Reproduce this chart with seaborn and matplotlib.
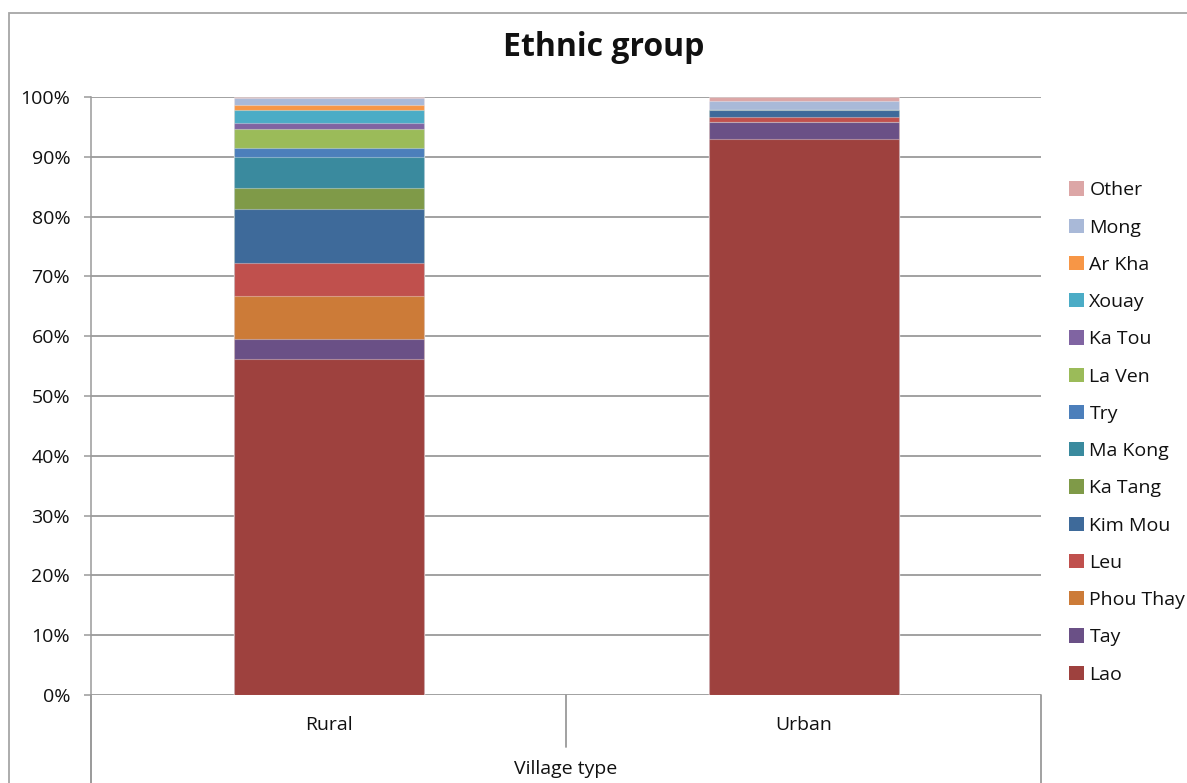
import numpy as np
import matplotlib
matplotlib.use("Agg")
import matplotlib.pyplot as plt
from matplotlib.patches import Patch, Rectangle
import seaborn as sns

# Ethnic composition (% of households) by village type
villages = ["Rural", "Urban"]
groups = ["Lao", "Tay", "Phou Thay", "Leu", "Kim Mou", "Ka Tang", "Ma Kong",
          "Try", "La Ven", "Ka Tou", "Xouay", "Ar Kha", "Mong", "Other"]
rural = [56.2, 3.3, 7.2, 5.5, 9.1, 3.4, 5.2, 1.6, 3.1, 1.1, 2.1, 0.9, 1.1, 0.2]
urban = [93.0, 2.8, 0.0, 0.8, 1.2, 0.0, 0.0, 0.0, 0.0, 0.0, 0.0, 0.0, 1.6, 0.6]
colors = ["#9E413E", "#6A5086", "#CC7B38", "#C0504D", "#3E6A9A", "#7F9A48",
          "#3A8A9E", "#4C7FBB", "#9BBB59", "#8064A2", "#4BACC6", "#F79646",
          "#A9B9D8", "#DCA6A6"]
yticks = list(range(0, 101, 10))
ytick_labels = [f"{t}%" for t in yticks]

sns.set_style("white")
plt.rcParams["font.family"] = ["Open Sans", "DejaVu Sans"]
FS = 14

W, H = 1187, 783
fig = plt.figure(figsize=(W / 100, H / 100), dpi=100)
ax = fig.add_axes([91 / W, 1 - 695 / H, (1041 - 91) / W, (695 - 97) / H])

# stacked bars: draw cumulative totals from the top segment downwards
cum = np.cumsum(np.array([rural, urban]), axis=1)
for i in range(len(groups) - 1, -1, -1):
    sns.barplot(x=villages, y=cum[:, i], order=villages, color=colors[i],
                saturation=1, width=0.4, ax=ax,
                edgecolor=(1, 1, 1, 0.35), linewidth=0.8, zorder=3)

grid_c = "#9a9a9a"
ax.set_xlim(-0.5, 1.5)
ax.set_ylim(0, 100)
ax.set_yticks(yticks)
ax.set_yticklabels(ytick_labels, fontsize=FS, color="#111111")
ax.set_xticks([])
ax.set_xlabel("")
ax.set_ylabel("")
ax.yaxis.grid(True, color=grid_c, linewidth=1.3, zorder=0)
ax.tick_params(axis="y", length=5, width=1.1, color=grid_c, pad=10, left=True)
for s in ["top", "right", "bottom"]:
    ax.spines[s].set_visible(False)
ax.spines["left"].set_color(grid_c)
ax.spines["left"].set_linewidth(1.1)
ax.spines["left"].set_bounds(-20, 100)

# multi-level category axis below the plot
tr = ax.get_xaxis_transform()
ax.plot([-0.5, -0.5], [0, -0.16], color=grid_c, lw=1.3, transform=tr, clip_on=False)
ax.plot([1.5, 1.5], [0, -0.16], color=grid_c, lw=1.3, transform=tr, clip_on=False)
ax.plot([0.5, 0.5], [0, -0.087], color=grid_c, lw=1.3, transform=tr, clip_on=False)
for j, v in enumerate(villages):
    ax.text(j, -0.050, v, transform=tr, ha="center", va="center", fontsize=FS,
            color="#111111")
ax.text(0.5, -0.124, "Village type", transform=tr, ha="center", va="center",
        fontsize=FS, color="#111111")

fig.text(604 / W, 1 - 48 / H, "Ethnic group", ha="center", va="center",
         fontsize=23, fontweight="bold", color="#111111")

# outer chart frame
fig.patches.append(Rectangle((9 / W, -0.2), 1.2, 1 - 13 / H + 0.2,
                             transform=fig.transFigure, fill=False,
                             edgecolor="#a6a6a6", linewidth=1.3))

handles = [Patch(facecolor=c, edgecolor="none") for c in colors][::-1]
leg = fig.legend(handles, groups[::-1], loc="center left",
                 bbox_to_anchor=(1069 / W, 1 - 432.5 / H), frameon=False,
                 fontsize=FS, handlelength=0.75, handleheight=0.75,
                 handletextpad=0.3, labelspacing=0.99, borderpad=0,
                 borderaxespad=0)
for t in leg.get_texts():
    t.set_color("#111111")

fig.savefig("out.png", dpi=100)
